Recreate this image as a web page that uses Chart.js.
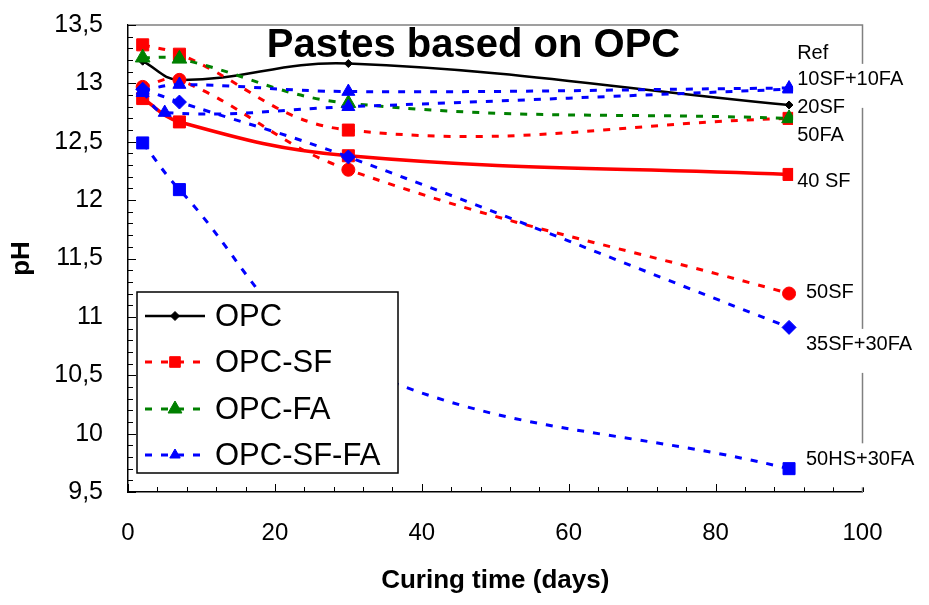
<!DOCTYPE html>
<html>
<head>
<meta charset="utf-8">
<title>Pastes based on OPC</title>
<script src="https://cdn.jsdelivr.net/npm/chart.js@4.4.1/dist/chart.umd.min.js"></script>
<style>
  html, body { margin: 0; padding: 0; background: #ffffff; }
  #wrap { width: 929px; height: 605px; }
</style>
</head>
<body>
<div id="wrap"><canvas id="ph-chart" width="929" height="605"></canvas></div>
<script>
(function () {
  'use strict';

  // curing time (days) for each measurement
  const days = [2, 7, 30, 90];
  const daysAlt = [2, 5, 30, 90];

  // pH readings
  const phRef = [13.19, 13.03, 13.17, 12.815];
  const ph20SF = [13.33, 13.25, 12.6, 12.7];
  const ph40SF = [12.87, 12.67, 12.38, 12.22];
  const ph50SF = [12.97, 13.03, 12.26, 11.2];
  const ph50FA = [13.22, 13.21, 12.83, 12.7];
  const ph10SF10FA = [12.94, 12.99, 12.93, 12.96];
  const ph10SF10FAb = [12.92, 12.75, 12.8, 12.95];
  const ph35SF30FA = [12.95, 12.84, 12.37, 10.91];
  const ph50HS30FA = [12.49, 12.09, 10.6, 9.7];

  const legendNames = ['OPC', 'OPC-SF', 'OPC-FA', 'OPC-SF-FA'];
  const endLabels = ['Ref', '10SF+10FA', '20SF', '50FA', '40 SF', '50SF', '35SF+30FA', '50HS+30FA'];
  const xTicks = [0, 20, 40, 60, 80, 100];
  const yTicks = [9.5, 10, 10.5, 11, 11.5, 12, 12.5, 13, 13.5];

  // where the mix names sit (days, pH)
  const endLabelSpots = [
    [91.1, 13.258], [91.1, 13.03], [91.1, 12.795], [91.1, 12.55], [91.1, 12.16],
    [92.3, 11.21], [92.3, 10.76], [92.3, 9.78]
  ];

  const FONT = '"Liberation Sans", Arial, Helvetica, sans-serif';
  const RED = '#ff0000';
  const GREEN = '#008000';
  const BLUE = '#0000ff';
  const DASH = [7, 9];

  function series(label, xs, ys, color, marker, radius, dashed, width) {
    return {
      label: label,
      data: xs.map(function (x, i) { return { x: x, y: ys[i] }; }),
      borderColor: color,
      backgroundColor: color,
      borderWidth: width || 3,
      borderDash: dashed ? DASH : [],
      pointStyle: marker,
      pointRadius: radius,
      pointHoverRadius: radius,
      pointBackgroundColor: color,
      pointBorderColor: color,
      pointBorderWidth: 1,
      tension: 0.4,
      fill: false
    };
  }

  const datasets = [
    series('Ref', days, phRef, '#000000', 'rectRot', 4, false, 2.5),
    series('20SF', days, ph20SF, RED, 'rect', 8.5, true),
    series('40 SF', days, ph40SF, RED, 'rect', 8.5, false, 3.5),
    series('50SF', days, ph50SF, RED, 'circle', 6.5, true),
    series('50FA', days, ph50FA, GREEN, 'triangle', 8.5, true),
    series('10SF+10FA', days, ph10SF10FA, BLUE, 'triangle', 7.5, true),
    series('10SF+10FA b', daysAlt, ph10SF10FAb, BLUE, 'triangle', 7.5, true),
    series('35SF+30FA', days, ph35SF30FA, BLUE, 'rectRot', 7, true),
    series('50HS+30FA', days, ph50HS30FA, BLUE, 'rect', 8.5, true)
  ];
  // later series paint over earlier ones, as in the source sheet
  datasets.forEach(function (d, i) { d.order = datasets.length - i; });

  // which dataset stands for each legend row, and its marker size there
  const legendRows = [
    { ds: 0, radius: 4.5 },
    { ds: 1, radius: 7.5 },
    { ds: 4, radius: 8 },
    { ds: 5, radius: 6 }
  ];

  function drawMarker(ctx, style, radius, x, y, color) {
    if (Chart.helpers && Chart.helpers.drawPoint) {
      ctx.fillStyle = color;
      ctx.strokeStyle = color;
      ctx.lineWidth = 1;
      ctx.setLineDash([]);
      Chart.helpers.drawPoint(ctx, { pointStyle: style, radius: radius, rotation: 0, borderWidth: 1 }, x, y);
      return;
    }
    ctx.fillStyle = color;
    ctx.beginPath();
    ctx.arc(x, y, radius, 0, Math.PI * 2);
    ctx.fill();
  }

  const decorations = {
    id: 'decorations',
    afterDraw: function (chart) {
      const ctx = chart.ctx;
      const a = chart.chartArea;
      const xs = chart.scales.x;
      const ys = chart.scales.y;
      ctx.save();

      // plot area frame (top and right)
      ctx.strokeStyle = '#808080';
      ctx.lineWidth = 1.5;
      ctx.setLineDash([]);
      ctx.beginPath();
      ctx.moveTo(a.left, a.top);
      ctx.lineTo(a.right, a.top);
      ctx.lineTo(a.right, a.bottom);
      ctx.stroke();

      // inside tick marks
      ctx.strokeStyle = '#000000';
      ctx.lineWidth = 1;
      ctx.beginPath();
      for (let k = 0; k <= 25; k++) {
        const px = Math.round(xs.getPixelForValue(k * 4)) + 0.5;
        const len = k % 5 === 0 ? 8 : 5;
        ctx.moveTo(px, a.bottom);
        ctx.lineTo(px, a.bottom - len);
      }
      for (let k = 0; k <= 40; k++) {
        const py = Math.round(ys.getPixelForValue(9.5 + k * 0.1)) + 0.5;
        const len = k % 5 === 0 ? 8 : 5;
        ctx.moveTo(a.left, py);
        ctx.lineTo(a.left + len, py);
      }
      ctx.stroke();

      // mix names at the end of the curves
      ctx.font = '20px ' + FONT;
      ctx.textBaseline = 'middle';
      ctx.textAlign = 'left';
      endLabels.forEach(function (txt, i) {
        const px = xs.getPixelForValue(endLabelSpots[i][0]);
        const py = ys.getPixelForValue(endLabelSpots[i][1]);
        const w = ctx.measureText(txt).width;
        ctx.fillStyle = '#ffffff';
        ctx.fillRect(px - 4, py - 16, w + 10, 44);
      });
      endLabels.forEach(function (txt, i) {
        const px = xs.getPixelForValue(endLabelSpots[i][0]);
        const py = ys.getPixelForValue(endLabelSpots[i][1]);
        ctx.fillStyle = '#000000';
        ctx.fillText(txt, px, py);
      });

      // legend box
      const lx = 137, ly = 292, lw = 261, lh = 181;
      ctx.fillStyle = '#ffffff';
      ctx.fillRect(lx, ly, lw, lh);
      ctx.strokeStyle = '#000000';
      ctx.lineWidth = 1.5;
      ctx.strokeRect(lx, ly, lw, lh);
      const rowY = [316, 362, 409, 455];
      legendRows.forEach(function (row, i) {
        const ds = chart.data.datasets[row.ds];
        const y = rowY[i];
        ctx.strokeStyle = ds.borderColor;
        ctx.lineWidth = Math.min(ds.borderWidth, 3);
        ctx.setLineDash(ds.borderDash || []);
        ctx.beginPath();
        ctx.moveTo(145, y);
        ctx.lineTo(205, y);
        ctx.stroke();
        ctx.setLineDash([]);
        drawMarker(ctx, ds.pointStyle, row.radius, 175, y, ds.borderColor);
        ctx.fillStyle = '#000000';
        ctx.font = '31px ' + FONT;
        ctx.textAlign = 'left';
        ctx.textBaseline = 'middle';
        ctx.fillText(legendNames[i], 215, y + 1);
      });

      // chart title inside the plot
      ctx.fillStyle = '#000000';
      ctx.font = 'bold 40px ' + FONT;
      ctx.textAlign = 'center';
      ctx.textBaseline = 'alphabetic';
      ctx.fillText('Pastes based on OPC', 473.5, 57);

      ctx.restore();
    }
  };

  function commaNumber(v) {
    return String(v).replace('.', ',');
  }

  Chart.defaults.font.family = FONT;
  Chart.defaults.color = '#000000';

  new Chart(document.getElementById('ph-chart').getContext('2d'), {
    type: 'line',
    data: { datasets: datasets },
    options: {
      responsive: false,
      animation: false,
      devicePixelRatio: 1,
      layout: { autoPadding: false, padding: { top: 25, right: 66.5, bottom: 0, left: 0 } },
      plugins: {
        legend: { display: false },
        tooltip: { enabled: false },
        title: { display: false }
      },
      scales: {
        x: {
          type: 'linear',
          min: 0,
          max: 100,
          afterBuildTicks: function (s) { s.ticks = xTicks.map(function (v) { return { value: v }; }); },
          afterFit: function (s) { s.height = 113; s.paddingLeft = 0; s.paddingRight = 0; },
          grid: { display: false, drawTicks: false },
          border: { display: true, color: '#000000', width: 1.5 },
          ticks: { padding: 27, font: { size: 24 }, color: '#000000', maxRotation: 0, callback: commaNumber },
          title: {
            display: true,
            text: 'Curing time (days)',
            font: { size: 26, weight: 'bold' },
            color: '#000000',
            padding: { top: 0, bottom: 9 }
          }
        },
        y: {
          type: 'linear',
          min: 9.5,
          max: 13.5,
          afterBuildTicks: function (s) { s.ticks = yTicks.map(function (v) { return { value: v }; }); },
          afterFit: function (s) { s.width = 128; s.paddingTop = 0; s.paddingBottom = 0; },
          grid: { display: false, drawTicks: false },
          border: { display: true, color: '#000000', width: 1.5 },
          ticks: { padding: 25, font: { size: 25 }, color: '#000000', callback: commaNumber },
          title: {
            display: true,
            text: 'pH',
            font: { size: 26, weight: 'bold' },
            color: '#000000',
            padding: { top: 6, bottom: 0 }
          }
        }
      }
    },
    plugins: [decorations]
  });
})();
</script>
</body>
</html>
